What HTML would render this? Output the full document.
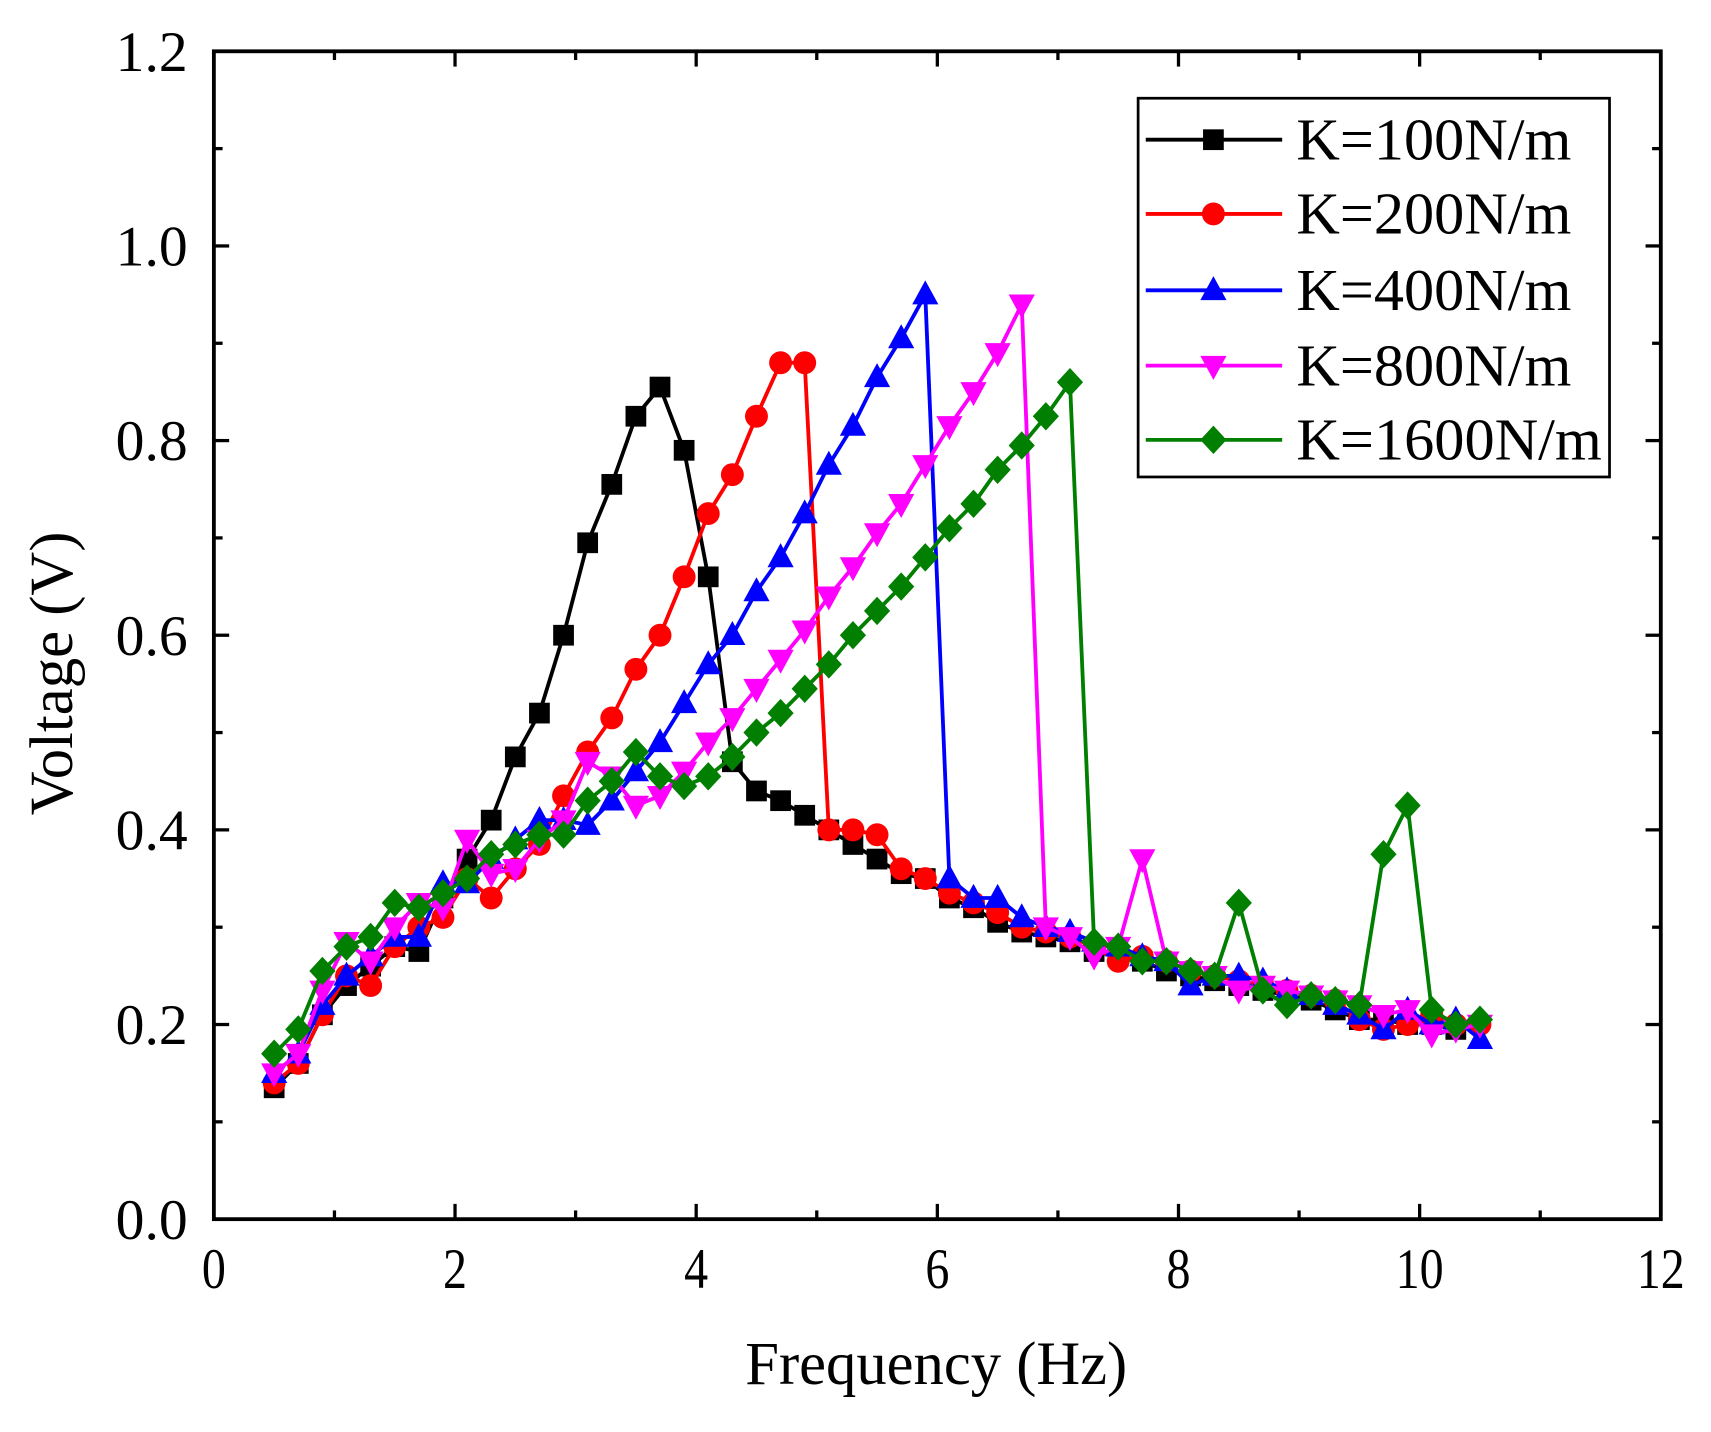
<!DOCTYPE html>
<html><head><meta charset="utf-8"><style>
html,body{margin:0;padding:0;background:#fff;}
svg{display:block;}
text{font-family:"Liberation Serif",serif;fill:#000;}
</style></head><body>
<svg id="s" width="1711" height="1432" viewBox="0 0 1568 1312" preserveAspectRatio="none" xmlns="http://www.w3.org/2000/svg">
<rect x="0" y="0" width="1568" height="1312" fill="#fff"/>
<g id="plot"></g>
<g id="axes"></g>
</svg>
<script>
var NS="http://www.w3.org/2000/svg";
function el(t,a,p){var e=document.createElementNS(NS,t);for(var k in a)e.setAttribute(k,a[k]);(p||document.getElementById('s')).appendChild(e);return e;}
var X0=196,X1=1522,Y0=1117,Y1=47;
function px(x){return X0+(X1-X0)*x/12;}
function py(y){return Y0-(Y0-Y1)*y/1.2;}
var tail=[0.34,0.33,0.32,0.305,0.295,0.29,0.285,0.275,0.27,0.265,0.255,0.25,0.245,0.24,0.235,0.23,0.225,0.215,0.205,0.205,0.2,0.2,0.195];
var S=[
{c:"#000",m:"sq",d:[0.135,0.16,0.21,0.24,0.26,0.28,0.275,0.33,0.37,0.41,0.475,0.52,0.60,0.695,0.755,0.825,0.855,0.79,0.66,0.47,0.44,0.43,0.415,0.40,0.385,0.37,0.355,0.35].concat(tail.slice(1))},
{c:"#f00",m:"ci",d:[0.14,0.16,0.21,0.25,0.24,0.28,0.30,0.31,0.35,0.33,0.36,0.385,0.435,0.48,0.515,0.565,0.60,0.66,0.725,0.765,0.825,0.88,0.88,0.40,0.40,0.395,0.36,0.35,0.335,0.325,0.315,0.30,0.295,0.29,0.28,0.265,0.27,0.265,0.255,0.25,0.245,0.24,0.235,0.23,0.225,0.205,0.195,0.20,0.21,0.20,0.20]},
{c:"#00f",m:"tu",d:[0.15,0.17,0.22,0.25,0.27,0.29,0.29,0.345,0.345,0.37,0.39,0.41,0.41,0.405,0.43,0.46,0.49,0.53,0.57,0.60,0.645,0.68,0.725,0.775,0.815,0.865,0.905,0.95,0.35,0.33,0.33,0.31,0.30,0.295,0.285,0.28,0.27,0.265,0.24,0.25,0.25,0.245,0.235,0.23,0.22,0.21,0.195,0.215,0.20,0.205,0.185]},
{c:"#f0f",m:"td",d:[0.15,0.17,0.235,0.285,0.265,0.30,0.325,0.32,0.39,0.355,0.36,0.39,0.41,0.47,0.455,0.425,0.435,0.46,0.49,0.515,0.545,0.575,0.605,0.64,0.67,0.705,0.735,0.775,0.815,0.85,0.89,0.94,0.30,0.29,0.27,0.28,0.37,0.265,0.255,0.25,0.235,0.24,0.235,0.23,0.225,0.22,0.21,0.215,0.19,0.195,0.20]},
{c:"#007f00",m:"di",d:[0.17,0.195,0.255,0.28,0.29,0.325,0.32,0.335,0.35,0.375,0.385,0.395,0.395,0.43,0.45,0.48,0.455,0.445,0.455,0.475,0.50,0.52,0.545,0.57,0.60,0.625,0.65,0.68,0.71,0.735,0.77,0.795,0.825,0.86,0.285,0.28,0.265,0.265,0.255,0.25,0.325,0.235,0.22,0.23,0.225,0.22,0.375,0.425,0.215,0.20,0.205]}
];
var P=document.getElementById('plot');
function marker(m,x,y,c,g){
 if(m=="sq")el('rect',{x:x-9.5,y:y-9.5,width:19,height:19,fill:c},g);
 else if(m=="ci")el('circle',{cx:x,cy:y,r:10.5,fill:c},g);
 else if(m=="tu")el('polygon',{points:(x)+","+(y-13)+" "+(x-12)+","+(y+9)+" "+(x+12)+","+(y+9),fill:c},g);
 else if(m=="td")el('polygon',{points:(x)+","+(y+13)+" "+(x-12)+","+(y-9)+" "+(x+12)+","+(y-9),fill:c},g);
 else el('polygon',{points:x+","+(y-13)+" "+(x+12)+","+y+" "+x+","+(y+13)+" "+(x-12)+","+y,fill:c},g);
}
S.forEach(function(s){
 var pts=s.d.map(function(v,i){return [px(0.5+0.2*i),py(v)];});
 el('polyline',{points:pts.map(function(p){return p.join(",")}).join(" "),fill:"none",stroke:s.c,"stroke-width":3.5,"stroke-linejoin":"round"},P);
 pts.forEach(function(p){marker(s.m,p[0],p[1],s.c,P);});
});
var A=document.getElementById('axes');
el('rect',{x:X0,y:Y1,width:X1-X0,height:Y0-Y1,fill:"none",stroke:"#000","stroke-width":3.5},A);
for(var i=0;i<=12;i++){var x=px(i),L=(i%2==0)?14:8;
 el('line',{x1:x,y1:Y0,x2:x,y2:Y0-L,stroke:"#000","stroke-width":3},A);
 el('line',{x1:x,y1:Y1,x2:x,y2:Y1+L,stroke:"#000","stroke-width":3},A);
 if(i%2==0){var t=el('text',{x:x,y:1180,"font-size":52,"text-anchor":"middle",textLength:(i>=10?44:22),lengthAdjust:"spacingAndGlyphs"},A);t.textContent=i;}
}
for(var j=0;j<=12;j++){var y=py(j*0.1),L=(j%2==0)?14:8;
 el('line',{x1:X0,y1:y,x2:X0+L,y2:y,stroke:"#000","stroke-width":3},A);
 el('line',{x1:X1,y1:y,x2:X1-L,y2:y,stroke:"#000","stroke-width":3},A);
 if(j%2==0){var t=el('text',{x:172,y:y+18,"font-size":52,"text-anchor":"end",textLength:66,lengthAdjust:"spacingAndGlyphs"},A);t.textContent=(j/10).toFixed(1);}
}
var t=el('text',{x:858,y:1268,"font-size":56,"text-anchor":"middle",textLength:350,lengthAdjust:"spacingAndGlyphs"},A);t.textContent="Frequency (Hz)";
t=el('text',{x:0,y:0,"font-size":56,"text-anchor":"middle",transform:"translate(66,617) rotate(-90)",textLength:260,lengthAdjust:"spacingAndGlyphs"},A);t.textContent="Voltage (V)";
el('rect',{x:1043,y:90,width:432,height:347,fill:"#fff",stroke:"#000","stroke-width":2.5},A);
var labs=["K=100N/m","K=200N/m","K=400N/m","K=800N/m","K=1600N/m"],ly=[128,196,266,335,403],lw=[252,252,252,252,280];
S.forEach(function(s,i){
 el('line',{x1:1050,y1:ly[i],x2:1175,y2:ly[i],stroke:s.c,"stroke-width":3.5},A);
 marker(s.m,1112,ly[i],s.c,A);
 var tt=el('text',{x:1188,y:ly[i]+18,"font-size":54,textLength:lw[i],lengthAdjust:"spacingAndGlyphs"},A);tt.textContent=labs[i];
});
</script>
</body></html>
